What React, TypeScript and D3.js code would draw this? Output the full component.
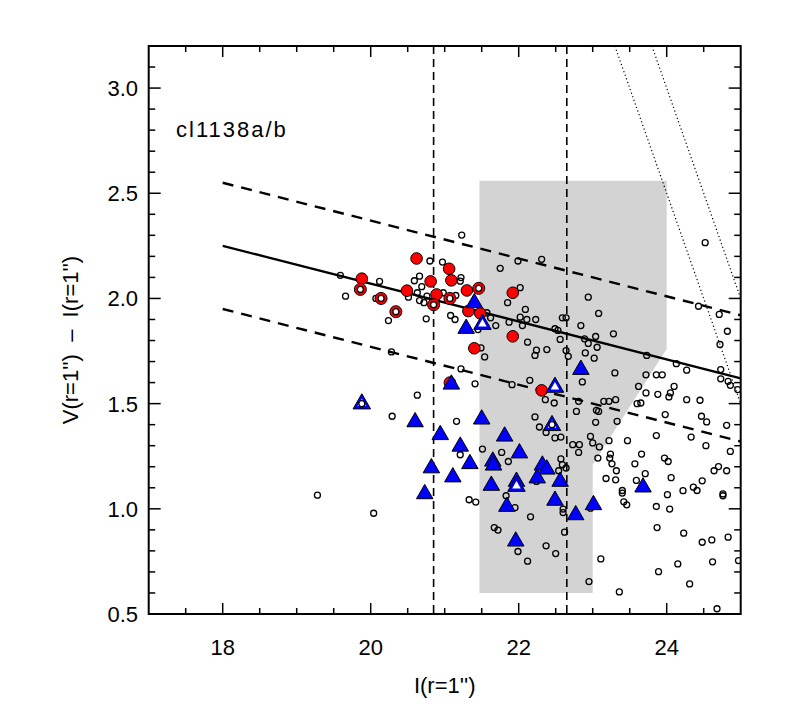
import React from 'react';
import * as d3 from 'd3';

const W = 786;
const H = 709;

const xDomain: [number, number] = [17, 25];
const yDomain: [number, number] = [0.5, 3.2];
const xMajorTicks = [18, 20, 22, 24];
const yMajorTicks = [0.5, 1.0, 1.5, 2.0, 2.5, 3.0];
const yTickLabels = ['0.5', '1.0', '1.5', '2.0', '2.5', '3.0'];

const panelLabel = 'cl1138a/b';
const xTitle = "I(r=1'')";
const yTitle = "V(r=1'')  \u2013  I(r=1'')";

// red-sequence relation and +/- scatter
const relationX = [18, 25];
const relationY = [2.25, 1.62];
const relationOffset = 0.3;
// magnitude limits (vertical dashed)
const magCutsX = [20.85, 22.65];
// constant V magnitude (dotted)
const vLimits = [26.5, 27.0];
// shaded selection region
const shadeX = [21.47, 24.0, 24.0, 23.0, 23.0, 21.47];
const shadeY = [2.56, 2.56, 1.76, 1.21, 0.6, 0.6];

const openCircles: [number, number][] = [
  [19.59, 2.11], [20.12, 2.081], [19.66, 2.011], [20.07, 2.0], [20.24, 1.895], [20.8, 2.178],
  [20.66, 2.106], [20.59, 2.084], [20.69, 2.056], [20.63, 2.027], [20.76, 2.011], [20.66, 1.99],
  [20.72, 1.98], [20.51, 2.006], [20.75, 1.903], [20.28, 1.746], [20.63, 1.54], [20.29, 1.44],
  [21.23, 2.301], [20.97, 2.173], [21.22, 2.099], [21.21, 2.082], [20.98, 2.027], [21.15, 2.014],
  [21.08, 1.919], [21.14, 1.9], [21.45, 1.852], [21.57, 1.932], [21.62, 1.908], [21.69, 1.871],
  [21.75, 2.143], [21.99, 2.178], [22.31, 2.186], [22.02, 2.051], [21.85, 1.98], [22.09, 1.948],
  [22.02, 1.911], [22.11, 1.9], [22.23, 1.9], [21.87, 1.887], [22.05, 1.871], [22.12, 1.792],
  [22.24, 1.754], [22.38, 1.757], [22.22, 1.729], [22.49, 1.856], [22.53, 1.848], [22.59, 1.908],
  [22.64, 1.908], [22.56, 1.805], [22.64, 1.752], [22.67, 1.725], [22.84, 1.871], [22.89, 1.808],
  [22.9, 1.741], [22.94, 2.006], [21.54, 1.722], [21.49, 1.765], [21.22, 1.665], [21.41, 1.594],
  [21.91, 1.59], [22.15, 1.611], [22.36, 1.519], [22.48, 1.503], [22.22, 1.437], [22.86, 1.603],
  [22.81, 1.511], [22.78, 1.463],
  [24.52, 2.265], [23.08, 1.929], [23.04, 1.819], [23.28, 1.832], [22.94, 1.786], [23.06, 1.768],
  [23.02, 1.716], [23.3, 1.646], [23.73, 1.729], [24.13, 1.69], [24.27, 1.659], [23.72, 1.637],
  [23.86, 1.637], [23.94, 1.637], [24.43, 1.963], [24.71, 1.924], [24.82, 1.844], [24.72, 1.781],
  [24.73, 1.662], [24.73, 1.618], [24.83, 1.606], [24.86, 1.587], [24.96, 1.567], [23.62, 1.582],
  [24.1, 1.582], [23.72, 1.551], [23.88, 1.544], [24.05, 1.551], [24.03, 1.532], [24.27, 1.519],
  [24.45, 1.516], [23.15, 1.511], [23.22, 1.511], [23.31, 1.519], [23.6, 1.5], [23.65, 1.503],
  [23.05, 1.468], [23.08, 1.463], [23.98, 1.448], [24.47, 1.44],
  [24.54, 1.413], [24.81, 1.397], [23.04, 1.411], [23.33, 1.416], [23.86, 1.348], [24.33, 1.341],
  [24.53, 1.3], [24.86, 1.273], [22.97, 1.344], [23.0, 1.313], [23.09, 1.294], [23.22, 1.324],
  [23.47, 1.324], [23.24, 1.26], [23.23, 1.241], [23.07, 1.241], [23.26, 1.214], [23.32, 1.181],
  [23.18, 1.144], [23.31, 1.138], [23.66, 1.26], [23.57, 1.214], [23.71, 1.167], [23.59, 1.135],
  [23.97, 1.241], [24.02, 1.225], [24.06, 1.148], [23.4, 1.087], [23.4, 1.075], [23.42, 1.033],
  [23.46, 1.019], [24.01, 1.067], [23.86, 1.011], [24.04, 0.999], [24.22, 1.086], [24.36, 1.103],
  [24.41, 1.087], [24.48, 1.133], [24.64, 1.181], [24.7, 1.201], [24.81, 1.181], [24.76, 1.071],
  [24.76, 1.062], [23.87, 0.911], [24.23, 0.884], [24.48, 0.841], [24.61, 0.852], [24.83, 0.865],
  [24.97, 0.754], [24.62, 0.748], [24.15, 0.738], [23.11, 0.762], [23.89, 0.701], [24.31, 0.643],
  [22.95, 0.654], [23.36, 0.605], [24.68, 0.525], [22.97, 1.003],
  [21.16, 1.416], [21.51, 1.284], [21.21, 1.257], [21.77, 1.268], [21.86, 1.225], [22.28, 1.389],
  [22.37, 1.363], [22.49, 1.337], [22.57, 1.341], [22.73, 1.305], [22.82, 1.305], [22.81, 1.268],
  [22.57, 1.237], [22.59, 1.21], [22.64, 1.194], [22.54, 1.181], [22.24, 1.13], [21.83, 1.062],
  [21.95, 1.006], [21.33, 1.043], [21.42, 1.032], [22.16, 0.962], [22.6, 0.999], [22.6, 0.982],
  [22.62, 0.889], [21.67, 0.911], [21.72, 0.899], [22.37, 0.824], [22.5, 0.787], [21.99, 0.797],
  [22.12, 0.751],
  [19.28, 1.065], [20.04, 0.979],
];

const redFilled: [number, number][] = [
  [20.62, 2.19], [19.88, 2.094], [20.49, 2.037], [20.81, 2.081], [20.89, 2.019], [21.06, 2.141],
  [21.09, 2.086], [21.3, 2.038], [21.32, 1.94], [21.48, 1.929], [21.92, 2.027], [21.92, 1.82],
  [21.4, 1.763], [22.31, 1.563], [21.07, 1.6],
];

const redRings: [number, number][] = [
  [19.86, 2.043], [20.14, 2.0], [20.34, 1.937], [20.85, 1.97], [21.07, 2.0], [21.46, 2.048],
];

const blueFilled: [number, number][] = [
  [21.4, 1.99], [21.29, 1.868], [22.84, 1.673], [21.09, 1.603], [20.6, 1.424], [20.94, 1.363],
  [21.21, 1.308], [21.34, 1.225], [20.82, 1.205], [21.11, 1.162], [20.73, 1.082], [21.5, 1.437],
  [21.81, 1.356], [22.01, 1.276], [21.65, 1.237], [21.66, 1.218], [21.63, 1.122], [21.97, 1.141],
  [21.84, 1.022], [22.32, 1.218], [22.38, 1.199], [22.25, 1.157], [22.56, 1.141], [22.49, 1.051],
  [22.77, 0.982], [21.96, 0.857], [23.68, 1.114], [23.01, 1.03],
];

const blueOpen: [number, number][] = [
  [19.88, 1.511], [21.51, 1.889], [22.49, 1.59], [22.45, 1.408], [21.97, 1.119],
];

const openTriangleCircles: [number, number][] = [
  [19.88, 1.5], [22.45, 1.4],
];

const FONT = "'Liberation Sans', Arial, sans-serif";

function triPath(cx: number, cy: number, s: number) {
  const h = (s * Math.sqrt(3)) / 2;
  const p = d3.path();
  p.moveTo(cx, cy - h / 2);
  p.lineTo(cx + s / 2, cy + h / 2);
  p.lineTo(cx - s / 2, cy + h / 2);
  p.closePath();
  return p.toString();
}

export default function App() {
  const x = d3.scaleLinear().domain(xDomain).range([148.7, 740.7]);
  const y = d3.scaleLinear().domain(yDomain).range([614, 46]);
  const [x0, x1] = x.range();
  const [yb, yt] = y.range();

  const line = d3
    .line<[number, number]>()
    .x((d) => x(d[0]))
    .y((d) => y(d[1]));

  const relPts: [number, number][] = relationX.map((v, i) => [v, relationY[i]]);
  const relUp: [number, number][] = relPts.map((d) => [d[0], d[1] + relationOffset]);
  const relDn: [number, number][] = relPts.map((d) => [d[0], d[1] - relationOffset]);

  const shadePts: [number, number][] = shadeX.map((v, i) => [v, shadeY[i]]);

  const vLines = vLimits.map((V) => {
    const xa = V - yDomain[1];
    const xb = xDomain[1];
    return [
      [xa, yDomain[1]],
      [xb, V - xb],
    ] as [number, number][];
  });

  const xMinor = d3.range(35, 50).map((i) => i / 2);
  const yMinor = d3.range(6, 32).map((i) => i / 10);

  return (
    <svg width={W} height={H} style={{ display: 'block', position: 'absolute', left: 0, top: 0 }}>
      <rect x={0} y={0} width={W} height={H} fill="#fff" />
      <defs>
        <clipPath id="plotclip">
          <rect x={x0} y={yt} width={x1 - x0} height={yb - yt} />
        </clipPath>
      </defs>

      <g clipPath="url(#plotclip)">
        <path d={line(shadePts)! + 'Z'} fill="#d3d3d3" stroke="none" />

        {magCutsX.map((m, i) => (
          <line key={'mc' + i} x1={x(m)} x2={x(m)} y1={yt} y2={yb} stroke="#000" strokeWidth={1.6} strokeDasharray="8,5" />
        ))}

        {vLines.map((pts, i) => (
          <path key={'vl' + i} d={line(pts)!} fill="none" stroke="#000" strokeWidth={1.2} strokeDasharray="1.2,2.6" />
        ))}

        <path d={line(relPts)!} fill="none" stroke="#000" strokeWidth={2.4} />
        <path d={line(relUp)!} fill="none" stroke="#000" strokeWidth={2.4} strokeDasharray="11,8" />
        <path d={line(relDn)!} fill="none" stroke="#000" strokeWidth={2.4} strokeDasharray="11,8" />

        {openCircles.map((d, i) => (
          <circle key={'oc' + i} cx={x(d[0])} cy={y(d[1])} r={3} fill="none" stroke="#000" strokeWidth={1.3} />
        ))}

        {redFilled.map((d, i) => (
          <circle key={'rf' + i} cx={x(d[0])} cy={y(d[1])} r={5.8} fill="#ff0000" stroke="#000" strokeWidth={1} />
        ))}

        {redRings.map((d, i) => (
          <g key={'rr' + i}>
            <circle cx={x(d[0])} cy={y(d[1])} r={6} fill="#ff0000" stroke="#000" strokeWidth={1} />
            <circle cx={x(d[0])} cy={y(d[1])} r={3} fill="#fff" stroke="#000" strokeWidth={1.3} />
          </g>
        ))}

        {blueFilled.map((d, i) => (
          <path key={'bf' + i} d={triPath(x(d[0]), y(d[1]), 16.5)} fill="#0000ff" stroke="#000" strokeWidth={1} strokeLinejoin="miter" />
        ))}

        {blueOpen.map((d, i) => (
          <g key={'bo' + i}>
            <path d={triPath(x(d[0]), y(d[1]), 17.5)} fill="#0000ff" stroke="#000" strokeWidth={1} />
            <path d={triPath(x(d[0]), y(d[1]) + 1, 8.5)} fill="#fff" stroke="none" />
          </g>
        ))}

        {openTriangleCircles.map((d, i) => (
          <circle key={'tc' + i} cx={x(d[0])} cy={y(d[1])} r={3} fill="#fff" stroke="#000" strokeWidth={1.3} />
        ))}
      </g>

      {xMinor.map((v, i) => {
        const major = Math.abs(v / 2 - Math.round(v / 2)) < 1e-6;
        const len = major ? 11 : 6;
        return (
          <g key={'xt' + i} stroke="#000" strokeWidth={1.5}>
            <line x1={x(v)} x2={x(v)} y1={yb} y2={yb - len} />
            <line x1={x(v)} x2={x(v)} y1={yt} y2={yt + len} />
          </g>
        );
      })}
      {yMinor.map((v, i) => {
        const major = Math.round(v * 10) % 5 === 0;
        const len = major ? 12 : 6.5;
        return (
          <g key={'yt' + i} stroke="#000" strokeWidth={1.5}>
            <line x1={x0} x2={x0 + len} y1={y(v)} y2={y(v)} />
            <line x1={x1} x2={x1 - len} y1={y(v)} y2={y(v)} />
          </g>
        );
      })}

      <rect x={x0} y={yt} width={x1 - x0} height={yb - yt} fill="none" stroke="#000" strokeWidth={2} />

      {xMajorTicks.map((v, i) => (
        <text key={'xl' + i} x={x(v)} y={655} textAnchor="middle" fontFamily={FONT} fontSize={22} fill="#000">
          {String(v)}
        </text>
      ))}
      {yMajorTicks.map((v, i) => (
        <text key={'yl' + i} x={138} y={y(v) + 8} textAnchor="end" fontFamily={FONT} fontSize={22} fill="#000">
          {yTickLabels[i]}
        </text>
      ))}

      <text x={(x0 + x1) / 2} y={693} textAnchor="middle" fontFamily={FONT} fontSize={22} fill="#000" style={{ whiteSpace: 'pre' }}>
        {xTitle}
      </text>
      <text
        transform={`translate(78, 340) rotate(-90)`}
        textAnchor="middle"
        fontFamily={FONT}
        fontSize={22}
        fill="#000"
        style={{ whiteSpace: 'pre' }}
      >
        {yTitle}
      </text>

      <text x={176} y={137} fontFamily={FONT} fontSize={22} fill="#000" letterSpacing={2}>
        {panelLabel}
      </text>
    </svg>
  );
}
